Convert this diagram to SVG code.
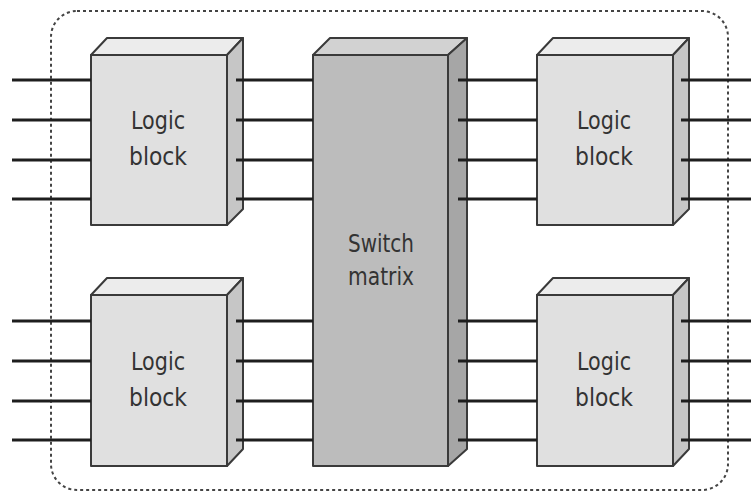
<svg xmlns="http://www.w3.org/2000/svg" width="751" height="492" viewBox="0 0 751 492">
<style>
.wire{stroke:#1e1e1e;stroke-width:3;fill:none}
.front{fill:#e0e0e0;stroke:#3a3a3a;stroke-width:2;stroke-linejoin:round}
.top{fill:#ececec;stroke:#3a3a3a;stroke-width:2;stroke-linejoin:round}
.side{fill:#c6c6c6;stroke:#3a3a3a;stroke-width:2;stroke-linejoin:round}
.sfront{fill:#bcbcbc;stroke:#3a3a3a;stroke-width:2;stroke-linejoin:round}
.stop{fill:#d2d2d2;stroke:#3a3a3a;stroke-width:2;stroke-linejoin:round}
.sside{fill:#a6a6a6;stroke:#3a3a3a;stroke-width:2;stroke-linejoin:round}
.lbl{font-family:"DejaVu Sans Condensed","DejaVu Sans",sans-serif;font-stretch:condensed;font-size:24px;fill:#333;text-anchor:middle}
</style>
<rect x="0" y="0" width="751" height="492" fill="#fff"/>
<rect x="51" y="11" width="677" height="479" rx="26" ry="26" fill="none" stroke="#444" stroke-width="2" stroke-dasharray="3,3"/>
<g id="logic-tl">
<polygon class="top" points="91,55 107,38 243,38 227,55"/>
<polygon class="side" points="227,55 243,38 243,209 227,225"/>
<rect class="front" x="91" y="55" width="136" height="170"/>
<text class="lbl" x="158" y="129" textLength="54" lengthAdjust="spacingAndGlyphs">Logic</text>
<text class="lbl" x="158" y="165" textLength="58" lengthAdjust="spacingAndGlyphs">block</text>
</g>
<g id="logic-bl">
<polygon class="top" points="91,295 107,278 243,278 227,295"/>
<polygon class="side" points="227,295 243,278 243,449 227,466"/>
<rect class="front" x="91" y="295" width="136" height="171"/>
<text class="lbl" x="158" y="370" textLength="54" lengthAdjust="spacingAndGlyphs">Logic</text>
<text class="lbl" x="158" y="406" textLength="58" lengthAdjust="spacingAndGlyphs">block</text>
</g>
<g id="logic-tr">
<polygon class="top" points="537,55 553,38 689,38 673,55"/>
<polygon class="side" points="673,55 689,38 689,209 673,225"/>
<rect class="front" x="537" y="55" width="136" height="170"/>
<text class="lbl" x="604" y="129" textLength="54" lengthAdjust="spacingAndGlyphs">Logic</text>
<text class="lbl" x="604" y="165" textLength="58" lengthAdjust="spacingAndGlyphs">block</text>
</g>
<g id="logic-br">
<polygon class="top" points="537,295 553,278 689,278 673,295"/>
<polygon class="side" points="673,295 689,278 689,449 673,466"/>
<rect class="front" x="537" y="295" width="136" height="171"/>
<text class="lbl" x="604" y="370" textLength="54" lengthAdjust="spacingAndGlyphs">Logic</text>
<text class="lbl" x="604" y="406" textLength="58" lengthAdjust="spacingAndGlyphs">block</text>
</g>
<g id="switch-matrix">
<polygon class="stop" points="313,55 330,38 467,38 448,55"/>
<polygon class="sside" points="448,55 467,38 467,449 448,466"/>
<rect class="sfront" x="313" y="55" width="135" height="411"/>
<text class="lbl" x="381" y="252" textLength="66" lengthAdjust="spacingAndGlyphs">Switch</text>
<text class="lbl" x="381" y="285" textLength="66" lengthAdjust="spacingAndGlyphs">matrix</text>
</g>
<g id="connectors">
<path class="wire" d="M12,80H91M12,120H91M12,160H91M12,199H91"/>
<path class="wire" d="M236,80H313M236,120H313M236,160H313M236,199H313"/>
<path class="wire" d="M458,80H537M458,120H537M458,160H537M458,199H537"/>
<path class="wire" d="M681,80H751M681,120H751M681,160H751M681,199H751"/>
<path class="wire" d="M12,321H91M12,361H91M12,401H91M12,440H91"/>
<path class="wire" d="M236,321H313M236,361H313M236,401H313M236,440H313"/>
<path class="wire" d="M458,321H537M458,361H537M458,401H537M458,440H537"/>
<path class="wire" d="M681,321H751M681,361H751M681,401H751M681,440H751"/>
</g>
</svg>
